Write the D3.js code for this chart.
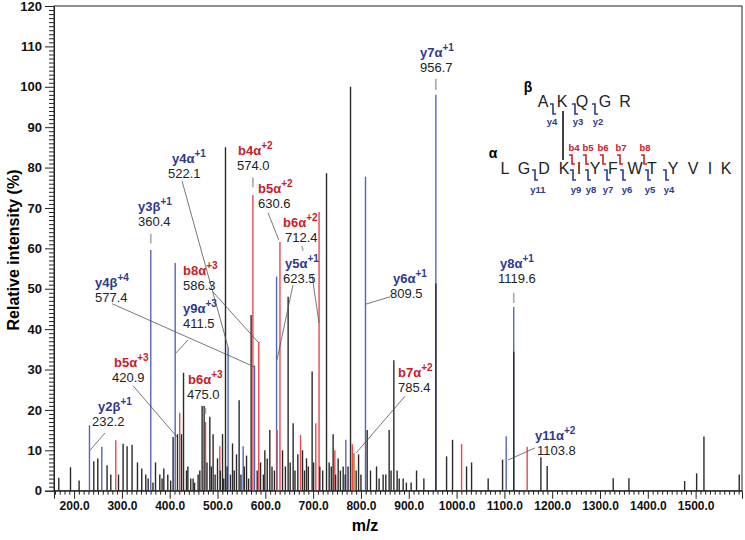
<!DOCTYPE html>
<html><head><meta charset="utf-8">
<script src="https://cdn.jsdelivr.net/npm/d3@7"></script>
<style>
html,body{margin:0;padding:0;background:#fff;}
svg{display:block;font-family:Arial,"Liberation Sans",sans-serif;}
</style></head>
<body><svg id="c" width="745" height="540"></svg>
<script>
// ---------- data ----------
const blackMz  = [168.0,192.5,210.5,241.2,249.6,269.0,276.8,292.9,302.5,310.9,321.3,332.6,341.6,350.0,355.0,365.0,370.3,379.3,384.0,387.7,396.0,402.0,407.1,416.3,424.7,428.9,435.1,438.0,444.0,449.0,452.0,459.4,463.0,467.8,472.0,478.0,483.9,487.0,490.8,495.0,500.0,506.0,510.5,513.0,516.7,520.0,527.0,531.4,535.0,539.7,545.2,549.0,556.0,560.7,565.0,570.3,583.0,590.0,596.0,599.0,604.0,609.4,614.0,619.0,636.0,642.0,647.7,652.0,658.2,662.0,668.0,677.8,682.0,686.2,690.0,697.9,701.0,714.0,720.0,728.0,733.5,738.0,741.8,747.0,752.3,757.0,762.8,767.0,773.0,778.2,790.0,795.0,800.0,813.0,820.0,832.6,838.0,846.4,852.0,859.0,863.0,868.8,875.7,880.0,888.3,895.0,905.0,916.3,931.6,956.7,979.1,991.6,1020.9,1031.4,1066.1,1096.2,1119.6,1176.4,1189.5,1327.6,1360.5,1477.0,1502.1,1517.4,1591.2];
const blackInt = [3.2,5.8,2.5,7.3,8.0,6.3,4.0,4.0,11.6,11.0,11.4,7.0,5.5,4.0,3.0,2.0,7.0,4.0,3.0,5.5,4.0,2.5,13.3,14.0,14.0,29.2,5.0,6.0,3.0,3.0,2.0,4.0,5.0,21.0,21.0,7.0,18.3,6.0,14.0,4.0,8.0,5.0,14.0,3.0,85.0,6.0,4.0,11.7,5.0,9.0,22.4,4.0,6.0,8.7,3.0,43.5,5.0,7.0,4.0,10.0,8.0,15.0,6.0,5.0,10.0,6.0,48.0,7.0,16.7,5.0,9.0,10.0,5.0,8.0,6.0,29.5,7.0,6.0,5.0,78.6,7.0,6.0,14.0,4.0,8.0,5.0,6.0,4.0,6.0,100.0,5.0,9.0,4.0,15.0,5.0,6.0,3.0,4.0,4.0,15.0,5.0,32.3,5.0,3.0,3.0,2.0,2.0,5.0,3.0,51.3,8.5,12.6,6.0,7.0,3.0,7.7,34.4,8.3,6.1,3.1,3.1,2.4,4.3,13.4,4.0];
const blueMz   = [232.2,258.0,360.4,411.5,522.1,553.6,577.4,623.5,768.4,809.5,956.7,1103.8,1119.6];
const blueInt  = [16.2,10.9,59.6,56.4,35.6,11.0,31.0,53.0,12.6,77.7,98.0,13.5,45.5];
const redMz    = [287.2,420.9,475.0,504.8,574.0,586.3,624.7,630.6,673.6,705.6,712.4,745.4,782.0,1010.5,1147.7];
const redInt   = [12.5,19.3,17.0,11.0,73.2,36.9,15.0,61.6,13.8,16.7,69.0,10.0,11.5,11.6,10.9];
const orangeMz = [785.4];
const orangeInt= [9.3];

const xTicks = [200,300,400,500,600,700,800,900,1000,1100,1200,1300,1400,1500];
const yTicks = [0,10,20,30,40,50,60,70,80,90,100,110,120];

// annotations: ion, charge, value text, type, text x (m/z), ion baseline (intensity)
const annIon   = ["y2β","y3β","b5α","y4β","b8α","y9α","b6α","y4α","b4α","b5α","b6α","y5α","y6α","b7α","y7α","y8α","y11α"];
const annSup   = ["+1","+1","+3","+4","+3","+3","+3","+1","+2","+2","+2","+1","+1","+2","+1","+1","+2"];
const annNum   = ["232.2","360.4","420.9","577.4","586.3","411.5","475.0","522.1","574.0","630.6","712.4","623.5","809.5","785.4","956.7","1119.6","1103.8"];
const annType  = ["y","y","b","y","b","y","b","y","b","b","b","y","y","b","y","y","y"];
const annIonX  = [250.0,333.7,283.5,243.8,427.8,427.8,438.3,404.8,542.9,584.7,637.0,641.2,867.1,877.5,923.5,1090.9,1164.1];
const annNumX  = [237.5,333.7,279.3,243.8,427.8,427.8,436.2,396.4,540.8,584.7,641.2,636.9,860.8,877.5,923.5,1086.7,1168.3];
const annIonY  = [19.8,69.2,30.6,50.4,53.4,44.0,26.4,81.1,83.1,73.7,65.3,55.1,51.4,28.1,107.4,55.1,12.6];
// leader lines [mz1,int1,mz2,int2,dashed]
const leaders = [
  [264.7,14.3,233.3,10.0,0],
  [360.4,63.6,360.4,61.2,1],
  [323.2,26.0,415.3,13.3,0],
  [279.3,46.3,578.4,30.6,0],
  [490.6,49.2,584.7,36.8,0],
  [438.3,37.3,413.2,34.1,0],
  [475.0,20.5,475.0,19.0,1],
  [425.7,76.7,521.9,35.6,0],
  [574.0,77.6,574.0,75.1,1],
  [605.6,68.8,628.6,62.0,0],
  [676.7,60.6,678.8,59.4,1],
  [697.6,53.4,712.3,41.5,0],
  [657.9,50.9,624.4,32.4,0],
  [860.8,48.0,810.6,46.2,0],
  [892.2,23.4,789.7,9.3,0],
  [956.7,102.0,956.7,99.2,1],
  [1119.6,49.0,1119.6,46.5,1],
  [1164.1,10.6,1107.6,7.6,0]
];

// peptide inset
const betaSeq  = ["A","K","Q","G","R"];
const alphaSeq = ["L","G","D","K","I","Y","F","W","T","Y","V","I","K"];
const betaY    = ["y4","y3","y2"];
const alphaB   = ["b4","b5","b6","b7","b8"];
const alphaY   = ["y11","y9","y8","y7","y6","y5","y4"];

// ---------- chart ----------
const svg = d3.select("#c");
const L=54,R=742,T=6,B=490.7;
const x = d3.scaleLinear().domain([158,1597]).range([L,R]);
const y = d3.scaleLinear().domain([0,120]).range([B,T]);
const BLUE="#2e3a8f", RED="#c8202a";
const BLUEL="#5566b8", REDL="#e84a4d";

svg.append("rect").attr("x",L).attr("y",T).attr("width",R-L).attr("height",B-T)
  .attr("fill","none").attr("stroke","#222").attr("stroke-width",1);

function drawPeaks(mz,it,col,w){
  svg.append("g").selectAll("line").data(mz.map((m,i)=>[m,it[i]])).join("line")
    .attr("x1",d=>x(d[0])).attr("x2",d=>x(d[0]))
    .attr("y1",y(0)).attr("y2",d=>y(d[1]))
    .attr("stroke",col).attr("stroke-width",w);
}
drawPeaks(blueMz,blueInt,BLUEL,1.4);
drawPeaks(redMz,redInt,REDL,1.4);
drawPeaks(orangeMz,orangeInt,"#c07a2a",1.6);
drawPeaks(blackMz,blackInt,"#2a2a2a",1.4);

// axes
const yMinor = d3.range(0,121,1).filter(v=>v%10);
svg.append("g").attr("transform",`translate(${L},0)`)
  .call(d3.axisLeft(y).tickValues(yMinor).tickSize(5).tickFormat(""))
  .call(g=>g.select(".domain").remove());
const ya = svg.append("g").attr("transform",`translate(${L},0)`)
  .call(d3.axisLeft(y).tickValues(yTicks).tickSize(9).tickPadding(3).tickFormat(d3.format("d")));
ya.selectAll("text").attr("font-size",13).attr("font-weight","bold").attr("fill","#111");

const xMinor = d3.range(160,1600,10).filter(v=>v%100);
svg.append("g").attr("transform",`translate(0,${B})`)
  .call(d3.axisBottom(x).tickValues(xMinor).tickSize(4).tickFormat(""))
  .call(g=>g.select(".domain").remove());
const xa = svg.append("g").attr("transform",`translate(0,${B})`)
  .call(d3.axisBottom(x).tickValues(xTicks).tickSize(8).tickPadding(3).tickFormat(d=>d.toFixed(1)));
xa.selectAll("text").attr("font-size",12).attr("font-weight","bold").attr("fill","#111");
svg.selectAll(".domain").attr("stroke","#222");
svg.selectAll(".tick line").attr("stroke","#222");

svg.append("text").attr("transform","translate(19,250) rotate(-90)").attr("text-anchor","middle")
  .attr("font-size",16).attr("font-weight","bold").text("Relative intensity (%)");
svg.append("text").attr("x",365).attr("y",531).attr("text-anchor","middle")
  .attr("font-size",16).attr("font-weight","bold").text("m/z");

// leaders
leaders.forEach(l=>{
  svg.append("line").attr("x1",x(l[0])).attr("y1",y(l[1])).attr("x2",x(l[2])).attr("y2",y(l[3]))
    .attr("stroke",l[4]?"#aaa":"#555").attr("stroke-width",l[4]?1.6:0.8);
});

// labels (number baseline 15px below ion baseline)
annIon.forEach((ion,i)=>{
  const col = annType[i]==="y"?BLUE:RED;
  const yb = y(annIonY[i]);
  const t = svg.append("text").attr("x",x(annIonX[i])).attr("y",yb)
    .attr("font-size",13).attr("font-weight","bold").attr("fill",col);
  t.append("tspan").text(ion);
  t.append("tspan").attr("dy",-6).attr("font-size",10).text(annSup[i]);
  svg.append("text").attr("x",x(annNumX[i])).attr("y",yb+15)
    .attr("font-size",13).attr("fill","#222").text(annNum[i]);
});

// peptide inset
const ins = svg.append("g");
ins.append("text").attr("x",528).attr("y",92).attr("text-anchor","middle").attr("font-size",14)
  .attr("font-weight","bold").text("β");
const bX=[543,562,582,605,625];
ins.selectAll(".bs").data(betaSeq).join("text").attr("x",(d,i)=>bX[i]).attr("y",107)
  .attr("text-anchor","middle").attr("font-size",16).attr("fill","#222").text(d=>d);
ins.append("line").attr("x1",563).attr("x2",563).attr("y1",111).attr("y2",160).attr("stroke","#111").attr("stroke-width",1.6);
ins.append("text").attr("x",493).attr("y",158).attr("text-anchor","middle").attr("font-size",14)
  .attr("font-weight","bold").text("α");
const aX=[505,524,544,564,579,595,613,635,652,673,693,710,726];
ins.selectAll(".as").data(alphaSeq).join("text").attr("x",(d,i)=>aX[i]).attr("y",174)
  .attr("text-anchor","middle").attr("font-size",16).attr("fill","#222").text(d=>d);

function mark(xp,top,bot,col){
  ins.append("path").attr("d",`M${xp-3},${top}H${xp}V${bot}H${xp+3}`)
    .attr("fill","none").attr("stroke",col).attr("stroke-width",1.6);
}
const byX=[553,575,595], byL=[552,578,598];
betaY.forEach((t,i)=>{mark(byX[i],104,114,BLUE);
  ins.append("text").attr("x",byL[i]).attr("y",125).attr("text-anchor","middle").attr("font-size",9.5)
   .attr("font-weight","bold").attr("fill",BLUE).text(t);});
const abX=[572,586,603,620,644], abL=[574,588,603,621,645];
alphaB.forEach((t,i)=>{mark(abX[i],155,164,RED);
  ins.append("text").attr("x",abL[i]).attr("y",151).attr("text-anchor","middle").attr("font-size",9.5)
   .attr("font-weight","bold").attr("fill",RED).text(t);});
const ayX=[535,573,588,607,623,648,666], ayL=[538,576,591,608,627,650,669];
alphaY.forEach((t,i)=>{mark(ayX[i],170,180,BLUE);
  ins.append("text").attr("x",ayL[i]).attr("y",193).attr("text-anchor","middle").attr("font-size",9.5)
   .attr("font-weight","bold").attr("fill",BLUE).text(t);});
</script></body></html>
